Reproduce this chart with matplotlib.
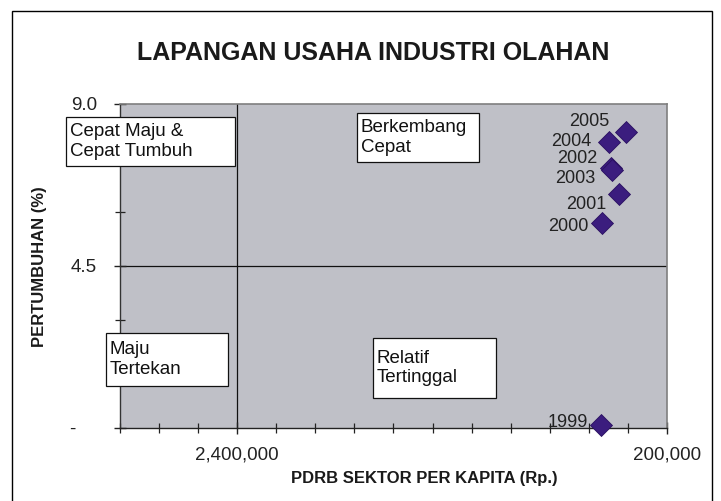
import matplotlib
matplotlib.use("Agg")
import matplotlib.pyplot as plt
from matplotlib.patches import Rectangle
from matplotlib.ticker import FixedLocator, MultipleLocator

plt.rcParams['font.family'] = ['Liberation Sans', 'DejaVu Sans']

# Data
years = ["1999", "2000", "2001", "2002", "2003", "2004", "2005"]
pdrb = [536000, 534000, 447000, 485000, 480000, 498000, 410000]
growth = [0.08, 5.69, 6.50, 7.22, 7.17, 7.94, 8.23]
# label offsets (pixels: right edge dx, vertical dy upward)
label_dx = [-13, -13, -12, -14, -17, -17, -17]
label_dy = [3, -3, -11, 9.5, -9, 1, 10]

x_ticks = [2400000, 200000]
x_ticklabels = ["2,400,000", "200,000"]
y_ticks = [0, 4.5, 9.0]
y_ticklabels = ["-    ", "4.5", "9.0"]

quadrants = [
    ("Cepat Maju &\nCepat Tumbuh", (66, 117, 235, 166)),
    ("Berkembang\nCepat", (357, 113, 479, 162)),
    ("Maju\nTertekan", (106, 333, 228, 386)),
    ("Relatif\nTertinggal", (373, 338, 496, 398)),
]

W, H = 721, 501
fig = plt.figure(figsize=(W / 100, H / 100), dpi=100)
fig.patch.set_facecolor("white")

def fx(px):
    return px / W

def fy(py):
    return 1 - py / H

# outer chart border
fig.patches.append(Rectangle((fx(12), fy(520)), fx(712) - fx(12), fy(11) - fy(520),
                             transform=fig.transFigure, fill=False,
                             edgecolor="#000000", linewidth=1.0))

L, R, T, B = 120, 667, 104, 428
ax = fig.add_axes([fx(L), fy(B), fx(R) - fx(L), fy(T) - fy(B)])
ax.set_facecolor("#bfc0c7")
ax.set_xlim(3000000, 200000)
ax.set_ylim(0, 9)

for s in ["top", "right"]:
    ax.spines[s].set_color("#7f7f7f")
    ax.spines[s].set_linewidth(1.2)
ax.spines["left"].set_color("#333333")
ax.spines["bottom"].set_color("#222222")
ax.spines["left"].set_linewidth(1.0)
ax.spines["bottom"].set_linewidth(1.0)

ax.axvline(2400000, color="#111111", linewidth=0.9, zorder=1)
ax.axhline(4.5, color="#111111", linewidth=0.9, zorder=1)

ax.xaxis.set_major_locator(FixedLocator(x_ticks))
ax.set_xticklabels(x_ticklabels)
ax.xaxis.set_minor_locator(MultipleLocator(200000))
ax.yaxis.set_major_locator(FixedLocator(y_ticks))
ax.set_yticklabels(y_ticklabels)
ax.yaxis.set_minor_locator(MultipleLocator(1.5))
ax.tick_params(axis="both", which="both", direction="inout", color="#222222",
               labelsize=13.5, labelcolor="#222222")
ax.tick_params(axis="both", which="major", length=9, width=1.0)
ax.tick_params(axis="both", which="minor", length=7, width=0.9)
ax.tick_params(axis="x", which="major", pad=9)
ax.tick_params(axis="y", which="major", pad=12)

ax.scatter(pdrb, growth, marker="D", s=125, color="#3b1d7e",
           edgecolors="#2a1060", linewidths=0.6, zorder=5, clip_on=False)

for yr, x, y, dx, dy in zip(years, pdrb, growth, label_dx, label_dy):
    ax.annotate(yr, (x, y), xytext=(dx * 0.72, dy * 0.72), textcoords="offset points",
                ha="right", va="center", fontsize=13, color="#222222", zorder=6)

for txt, (x0, y0, x1, y1) in quadrants:
    fig.patches.append(Rectangle((fx(x0), fy(y1)), fx(x1) - fx(x0), fy(y0) - fy(y1),
                                 transform=fig.transFigure, facecolor="white",
                                 edgecolor="#111111", linewidth=0.9, zorder=10))
    fig.text(fx(x0 + 4), fy((y0 + y1) / 2), txt, ha="left", va="center",
             fontsize=13.5, color="#111111", linespacing=1.2, zorder=11)

fig.text(fx(373), fy(53), "LAPANGAN USAHA INDUSTRI OLAHAN", ha="center", va="center",
         fontsize=18, fontweight="bold", color="#1a1a1a")
fig.text(fx(424), fy(478), "PDRB SEKTOR PER KAPITA (Rp.)", ha="center", va="center",
         fontsize=12, fontweight="bold", color="#1a1a1a")
fig.text(fx(40), fy(267), "PERTUMBUHAN (%)", ha="center", va="center", rotation=90,
         fontsize=12, fontweight="bold", color="#1a1a1a")

fig.savefig("out.png", dpi=100)
